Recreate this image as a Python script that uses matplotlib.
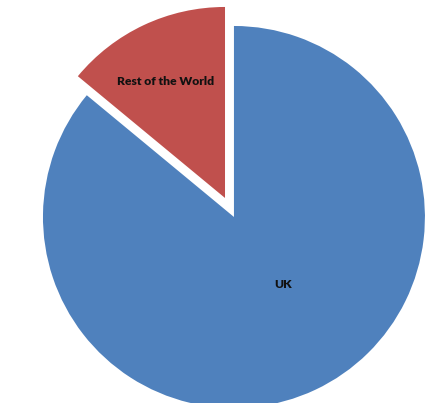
import matplotlib.pyplot as plt

labels = ["Rest of the World", "UK"]
shares = [14, 86]
colors = ["#C0504D", "#4F81BD"]
explode = [0.11, 0]

fig = plt.figure(figsize=(4.32, 4.03), dpi=100)
ax = fig.add_axes([0, 0, 1, 1])

wedges, texts = ax.pie(shares, labels=labels, colors=colors, explode=explode,
                       startangle=90, counterclock=True, labeldistance=0.7,
                       textprops={'fontsize': 8.7, 'fontweight': 'heavy',
                                  'family': 'Lato', 'color': '#111111'})
for t in texts:
    t.set_horizontalalignment('center')
    t.set_verticalalignment('center')
# nudge labels to where the original has them
texts[0].set_position((-0.356, 0.71))
texts[1].set_position((0.257, -0.352))

ax.set_xlim(-1.225, 1.037)
ax.set_ylim(-0.974, 1.136)
ax.set_aspect('auto')
ax.axis('off')

fig.savefig("out.png", dpi=100)
